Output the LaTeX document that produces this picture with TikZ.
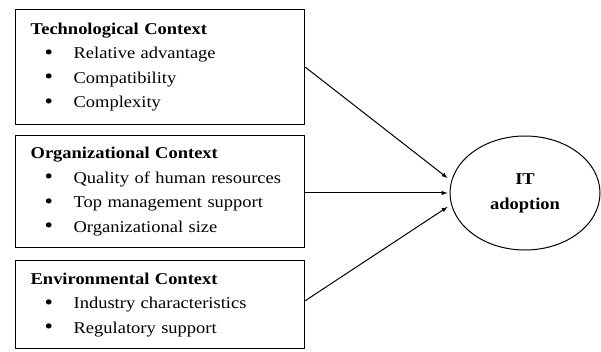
\documentclass[tikz,border=0pt]{standalone}
\usepackage{fontspec}
\setmainfont{Liberation Serif}[FakeStretch=1.12]
\usepackage{tikz}
\usetikzlibrary{calc}
\usetikzlibrary{arrows}
\usetikzlibrary{shapes.geometric}

\newcommand\ctxitem[1]{\hspace*{14pt}\makebox[29pt][l]{\raisebox{-0.5pt}{\scalebox{1.3}{\textbullet}}}#1}

\tikzset{
  ctxbox/.style={draw,line width=1.3pt,rectangle,anchor=north west,
    minimum width=289pt,text width=259pt,inner xsep=15pt,align=left,
    font=\fontsize{16.5}{24.5}\selectfont},
  outcome/.style={draw,line width=1pt,ellipse,minimum width=150pt,
    minimum height=114pt,align=center,
    font=\fontsize{16.5}{25}\selectfont\bfseries},
  link/.style={line width=1pt,-latex}
}

\begin{document}
\begin{tikzpicture}[x=1pt,y=-1pt]
  % Boundary
  \path[use as bounding box] (0,0) rectangle (601,352);
  % Context boxes
  \node[ctxbox,minimum height=115pt] (tech) at (15,9)
    {\textbf{Technological Context}\\
     \ctxitem{Relative advantage}\\
     \ctxitem{Compatibility}\\
     \ctxitem{Complexity}};
  \node[ctxbox,minimum height=112pt] (org) at (15,135)
    {\textbf{Organizational Context}\\
     \ctxitem{Quality of human resources}\\
     \ctxitem{Top management support}\\
     \ctxitem{Organizational size}};
  \node[ctxbox,minimum height=88pt] (env) at (15,260)
    {\textbf{Environmental Context}\\
     \ctxitem{Industry characteristics}\\
     \ctxitem{Regulatory support}};
  % Outcome
  \node[outcome] (adopt) at (525,193) {IT\\adoption};
  % Links
  \draw[link] (tech.east) -- ($(adopt.west)+(-2,-15)$);
  \draw[link] (org.east |- adopt.west) -- ($(adopt.west)+(-2,0)$);
  \draw[link] ($(env.east)+(0,-4)$) -- ($(adopt.west)+(-2,14)$);
\end{tikzpicture}
\end{document}
